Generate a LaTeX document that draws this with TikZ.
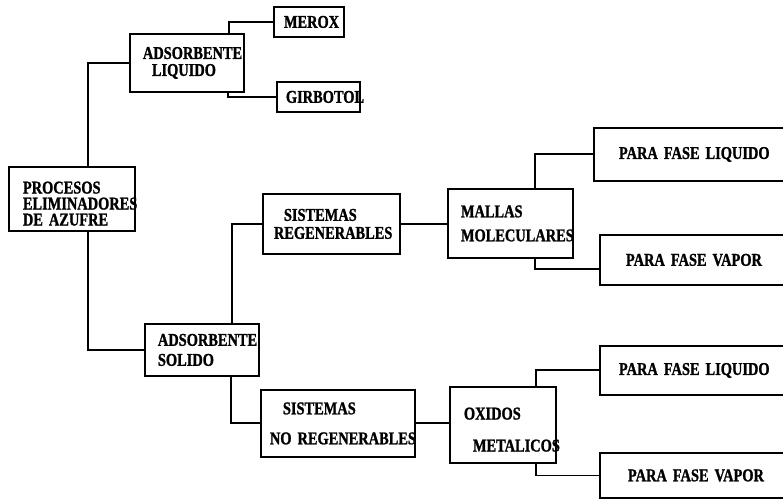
\documentclass[tikz,border=0pt]{standalone}
\usepackage{fontspec}
\setmainfont{Liberation Serif}[FakeStretch=0.8,WordSpace=2.2,FakeBold=1.2]
\newdimen\pxunit
\pxunit=0.75pt
\hyphenpenalty=10000

\begin{document}
\begin{tikzpicture}[x=0.75pt,y=-0.75pt,
  main/.style={draw,line width=1.4pt,anchor=north west,align=left,inner ysep=0pt,
    font=\bfseries\fontsize{13.5}{14}\selectfont},
  link/.style={line width=1.4pt}]
\useasboundingbox (0,0) rectangle (783,499);
\node[main,minimum height=64\pxunit,text width=98\pxunit,inner xsep=14\pxunit] (1) at (8,166) {\rule{0pt}{16pt}PROCESOS\\[-2pt]ELIMINADORES\\[-2pt]DE AZUFRE};
\node[main,minimum height=58\pxunit,text width=88\pxunit,inner xsep=13\pxunit] (2) at (129,33) {ADSORBENTE\\[-1.25pt]\hspace*{9\pxunit}LIQUIDO};
\node[main,minimum height=30\pxunit,text width=50\pxunit,inner xsep=10\pxunit] (3) at (273,6) {MEROX};
\node[main,minimum height=30\pxunit,text width=65\pxunit,inner xsep=9\pxunit] (4) at (276,81) {GIRBOTOL};
\node[main,minimum height=52\pxunit,text width=88\pxunit,inner xsep=13\pxunit] (5) at (144,323) {ADSORBENTE\\[1pt]SOLIDO};
\node[main,minimum height=60\pxunit,text width=115\pxunit,inner xsep=11\pxunit] (6) at (262,193) {\hspace*{10\pxunit}SISTEMAS\\[-0.5pt]REGENERABLES};
\node[main,minimum height=67\pxunit,text width=136\pxunit,inner xsep=9\pxunit] (7) at (260,389) {\hspace*{13\pxunit}SISTEMAS\\[8.5pt]NO~REGENERABLES};
\node[main,minimum height=69\pxunit,text width=99\pxunit,inner xsep=13\pxunit] (8) at (447,188) {MALLAS\\[4pt]MOLECULARES};
\node[main,minimum height=76\pxunit,text width=78\pxunit,inner xsep=14\pxunit] (9) at (449,386) {\rule{0pt}{16pt}OXIDOS\\[10pt]\hspace*{9\pxunit}METALICOS};
\node[main,minimum height=53\pxunit,text width=170\pxunit,inner xsep=25\pxunit] (10) at (593,127) {PARA FASE LIQUIDO};
\node[main,minimum height=50\pxunit,text width=168\pxunit,inner xsep=26\pxunit] (11) at (599,234) {PARA FASE VAPOR};
\node[main,minimum height=49\pxunit,text width=182\pxunit,inner xsep=19\pxunit] (12) at (599,345) {PARA FASE LIQUIDO};
\node[main,minimum height=45\pxunit,text width=164\pxunit,inner xsep=28\pxunit] (13) at (599,452) {PARA FASE VAPOR};
\draw[link] ([xshift=16\pxunit]1.north) |- (2.west);
\draw[link] ([xshift=42\pxunit]2.north) |- (3.west);
\draw[link] ([xshift=41\pxunit]2.south) |- (4.west);
\draw[link] ([xshift=16\pxunit]1.south) |- (5.west);
\draw[link] ([xshift=30\pxunit]5.north) |- (6.west);
\draw[link] ([xshift=29\pxunit]5.south) |- (7.west);
\draw[link] (6.east) -- (6.east -| 8.west);
\draw[link] (7.east) -- (7.east -| 9.west);
\draw[link] ([xshift=24.5\pxunit]8.north) |- (10.west);
\draw[link] ([xshift=24.5\pxunit]8.south) |- ([yshift=-9\pxunit]11.west);
\draw[link] ([xshift=33\pxunit]9.north) |- (12.west);
\draw[link] ([xshift=33\pxunit]9.south) |- (13.west);
\end{tikzpicture}
\end{document}
